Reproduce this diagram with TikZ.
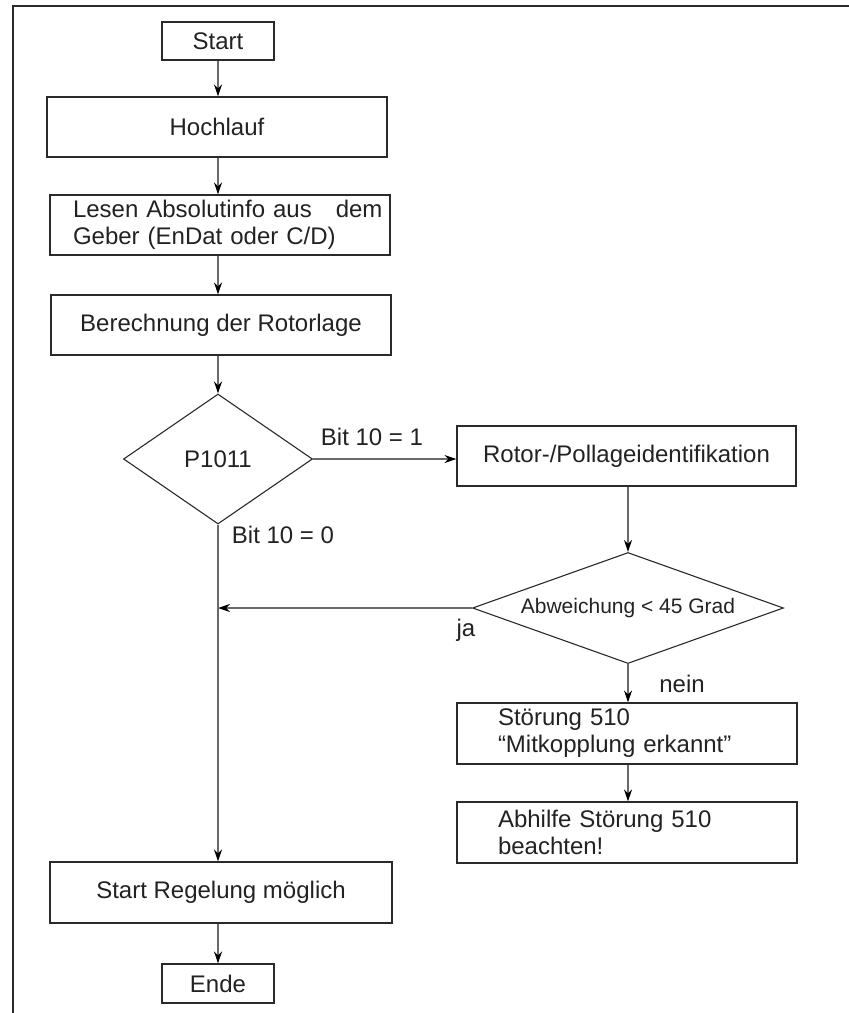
\documentclass[tikz,border=0pt]{standalone}
\usepackage{fontspec}
\setmainfont{Liberation Sans}
\usetikzlibrary{shapes.geometric,arrows.meta}
\definecolor{boxline}{HTML}{2A2A2A}
\definecolor{conline}{HTML}{6A6A6A}
\definecolor{txt}{HTML}{222222}
\begin{document}
\begin{tikzpicture}[x=0.5pt,y=-0.5pt,
  every node/.style={text=txt,font=\fontsize{12}{13.5}\selectfont},
  box/.style={draw=boxline,line width=0.55pt,rectangle,inner sep=0pt,minimum height=30pt,minimum width=170pt},
  term/.style={draw=boxline,line width=0.55pt,rectangle,inner sep=0pt,minimum height=19pt,minimum width=56pt},
  dec/.style={draw=boxline,line width=0.55pt,diamond,inner sep=0pt},
  con/.style={draw=conline,line width=0.55pt,-{Stealth[length=6pt,width=4pt,color=black]}},
  lbl/.style={inner sep=0pt}
]
\useasboundingbox (0,0) rectangle (849,1013);
% frame
\draw[boxline,line width=0.8pt] (13,1013) -- (13,6) -- (849,6);

\node[term] (start) at (218,41) {Start};
\node[box] (hoch) at (217,127) {Hochlauf};
\node[box,align=left,text width=147pt,inner xsep=11.5pt] (lesen) at (220,225) {\mbox{Lesen Absolutinfo aus\ \ \ dem}\\Geber (EnDat oder C/D)};
\node[box] (ber) at (221,325) {Berechnung der Rotorlage};
\node[dec,minimum width=94.5pt,minimum height=65pt] (p1011) at (218,459) {P1011};
\node[box,minimum width=169.5pt] (rotor) at (626.5,456) {Rotor-/Pollageidentifikation};
\node[dec,aspect=2.8,minimum width=155.5pt,minimum height=55.5pt,font=\fontsize{10.5}{12}\selectfont] (abw) at (628,608) {Abweichung < 45 Grad};
\node[box,minimum height=30.5pt,text width=129pt,align=left,inner xsep=20.5pt] (stoer) at (627,733.5) {Störung 510\\“Mitkopplung erkannt”};
\node[box,minimum height=30.5pt,text width=129pt,align=left,inner xsep=20.5pt] (abh) at (627,832.5) {Abhilfe Störung 510\\beachten!};
\node[box,minimum width=171pt,minimum height=30.5pt] (regel) at (221,892.5) {Start Regelung möglich};
\node[term,minimum height=19.5pt] (ende) at (218,983.5) {Ende};

\coordinate (join) at (218,608);

\draw[con] (start) -- (start |- hoch.north);
\draw[con] (start |- hoch.south) -- (start |- lesen.north);
\draw[con] (start |- lesen.south) -- (start |- ber.north);
\draw[con] (start |- ber.south) -- (p1011.north);
\draw[con] (p1011.east) -- (rotor.west |- p1011.east);
\draw[con] (abw.north |- rotor.south) -- (abw.north);
\draw[con] (abw.west) -- (join);
\draw[con] (p1011.south) -- (p1011.south |- regel.north);
\draw[con] (abw.south) -- (abw.south |- stoer.north);
\draw[con] (abw.south |- stoer.south) -- (abw.south |- abh.north);
\draw[con] (start |- regel.south) -- (ende.north);

\node[lbl] (b1) at (372,437) {Bit 10 = 1};
\node[lbl] (b0) at (283,535) {Bit 10 = 0};
\node[lbl] (ja) at (466,630) {ja};
\node[lbl] (nein) at (682,684) {nein};
\end{tikzpicture}
\end{document}
